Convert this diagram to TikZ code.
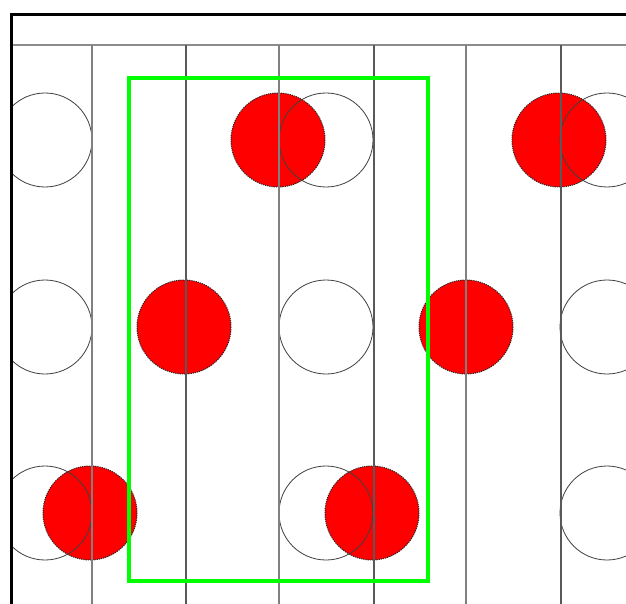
\documentclass[tikz,border=0pt]{standalone}
\begin{document}
\begin{tikzpicture}[x=1pt,y=-1pt,
  redball/.style={fill=red,draw=black!85,line width=1pt,dash pattern=on 1.2pt off 1pt},
  hole/.style={draw=black!75,line width=0.8pt},
  gridline/.style={draw=black!50,line width=1.7pt},
  gridlinedark/.style={draw=black!65,line width=1.4pt},
  framebox/.style={draw=green,line width=4.5pt},
  border/.style={draw=black,line width=3pt}]
\useasboundingbox (0,0) rectangle (626,604);
\fill[white] (0,0) rectangle (626,604);
\begin{scope}
\clip (11,14) rectangle (626,604);
% red balls
\foreach \x/\y in {278/140,559/140,184/327,466/327,90/513,372/513}
  \path[redball] (\x,\y) circle (47);
% holes
\foreach \y in {140,327,513}
  \foreach \x in {45,326,607}
    \path[hole] (\x,\y) circle (47);
% grid
\draw[black!45,line width=1.4pt] (11,45) -- (626,45);
\foreach \x in {92,279,466}
  \draw[gridline] (\x,45) -- (\x,604);
\foreach \x in {186,374,561}
  \draw[gridlinedark] (\x,45) -- (\x,604);
\end{scope}
% green window
\draw[framebox] (129,78) rectangle (428,581);
% outer border
\draw[border] (11.5,604) -- (11.5,14.5) -- (626,14.5);
\end{tikzpicture}
\end{document}
